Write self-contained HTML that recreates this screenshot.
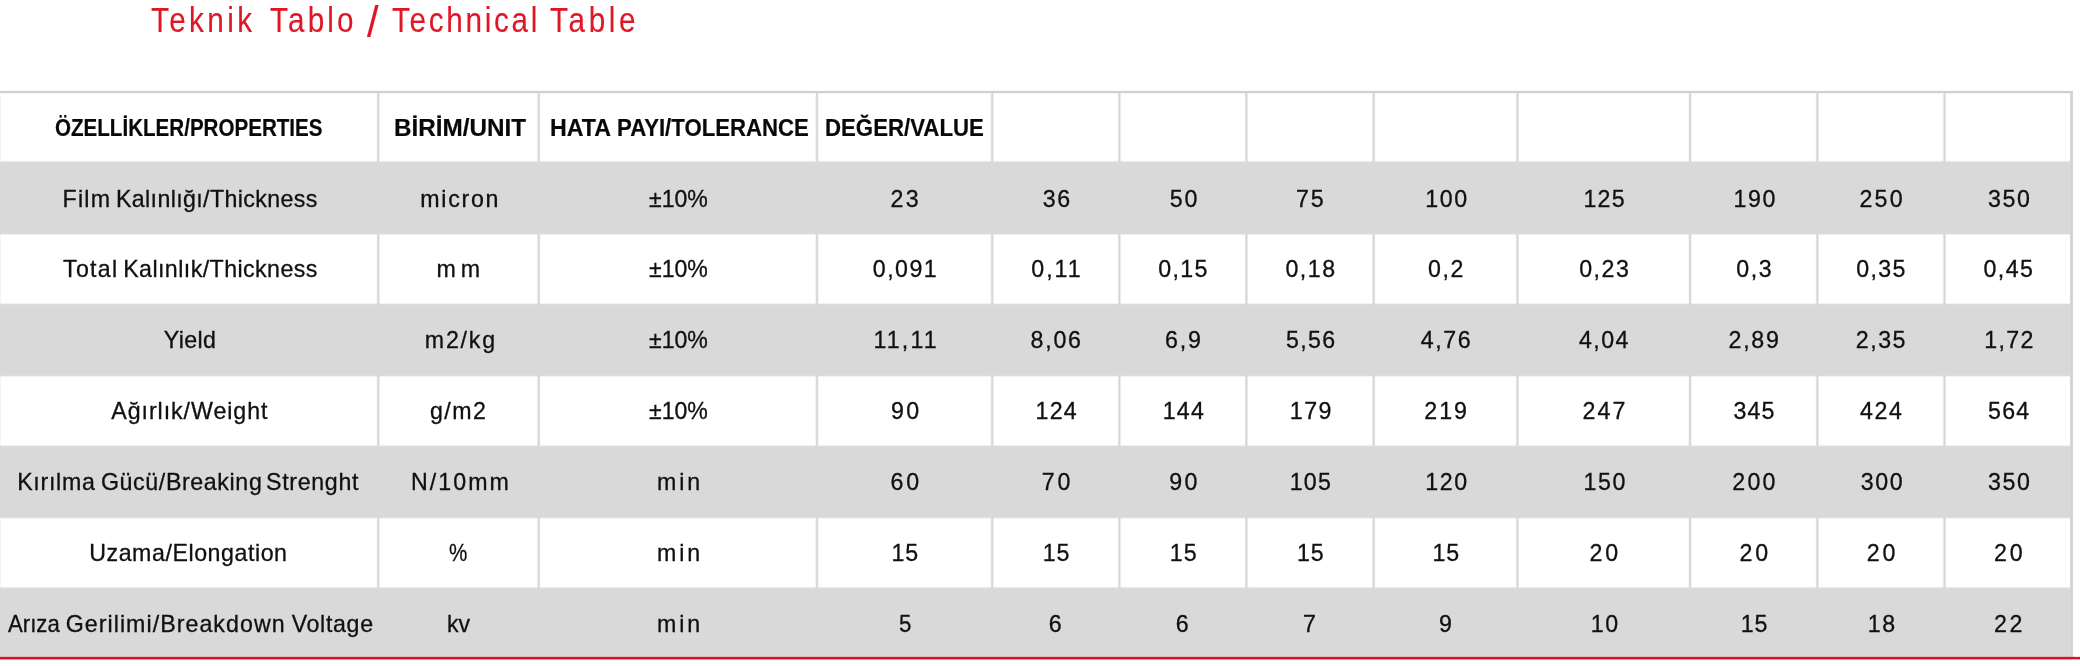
<!DOCTYPE html>
<html lang="tr"><head><meta charset="utf-8"><title>Teknik Tablo / Technical Table</title>
<style>
html,body{margin:0;padding:0;background:#fff;}
body{width:2080px;height:666px;position:relative;overflow:hidden;font-family:"Liberation Sans",sans-serif;}
#p{position:absolute;left:0;top:0;width:2080px;height:666px;}
#p{filter:blur(0.45px);}
.g{position:absolute;left:0;width:2072px;}
.vr{mix-blend-mode:darken;}
.hl{position:absolute;left:0;top:90px;width:2073px;height:4px;mix-blend-mode:darken;background:linear-gradient(to bottom,#fafafa 0,#fafafa 1px,#d0d0d0 1px,#d0d0d0 3px,#f6f6f6 3px,#f6f6f6 4px);}
.vl{position:absolute;top:91px;width:7px;height:567px;}
.red{position:absolute;left:0;top:656px;width:2080px;height:4px;background:linear-gradient(to bottom,rgba(223,16,34,.14) 0,rgba(223,16,34,.14) 25%,#df1022 25%,#df1022 75%,rgba(223,16,34,.36) 75%,rgba(223,16,34,.36) 100%);}
span{position:absolute;white-space:nowrap;transform-origin:0 0;line-height:normal;}
.c{font-size:23.2px;color:#101010;-webkit-text-stroke:0.3px #101010;}
.h{font-size:24.3px;font-weight:bold;color:#080808;-webkit-text-stroke:0.2px #080808;}
.t{font-size:35.35px;color:#df1626;-webkit-text-stroke:0.15px #df1626;}
</style></head>
<body>
<div class="vl" style="left:-4px;background:linear-gradient(to right,rgb(255,255,255) 0px,rgb(255,255,255) 1px,rgb(245,245,245) 1px,rgb(245,245,245) 2px,rgb(218,218,218) 2px,rgb(218,218,218) 3px,rgb(218,218,218) 3px,rgb(218,218,218) 4px,rgb(245,245,245) 4px,rgb(245,245,245) 5px,rgb(255,255,255) 5px,rgb(255,255,255) 6px,rgb(255,255,255) 6px,rgb(255,255,255) 7px)"></div>
<div class="vl" style="left:375px;background:linear-gradient(to right,rgb(255,255,255) 0px,rgb(255,255,255) 1px,rgb(250,250,250) 1px,rgb(250,250,250) 2px,rgb(224,224,224) 2px,rgb(224,224,224) 3px,rgb(214,214,214) 3px,rgb(214,214,214) 4px,rgb(239,239,239) 4px,rgb(239,239,239) 5px,rgb(254,254,254) 5px,rgb(254,254,254) 6px,rgb(255,255,255) 6px,rgb(255,255,255) 7px)"></div>
<div class="vl" style="left:535px;background:linear-gradient(to right,rgb(255,255,255) 0px,rgb(255,255,255) 1px,rgb(254,254,254) 1px,rgb(254,254,254) 2px,rgb(238,238,238) 2px,rgb(238,238,238) 3px,rgb(213,213,213) 3px,rgb(213,213,213) 4px,rgb(225,225,225) 4px,rgb(225,225,225) 5px,rgb(251,251,251) 5px,rgb(251,251,251) 6px,rgb(255,255,255) 6px,rgb(255,255,255) 7px)"></div>
<div class="vl" style="left:814px;background:linear-gradient(to right,rgb(255,255,255) 0px,rgb(255,255,255) 1px,rgb(245,245,245) 1px,rgb(245,245,245) 2px,rgb(218,218,218) 2px,rgb(218,218,218) 3px,rgb(218,218,218) 3px,rgb(218,218,218) 4px,rgb(245,245,245) 4px,rgb(245,245,245) 5px,rgb(255,255,255) 5px,rgb(255,255,255) 6px,rgb(255,255,255) 6px,rgb(255,255,255) 7px)"></div>
<div class="vl" style="left:989px;background:linear-gradient(to right,rgb(255,255,255) 0px,rgb(255,255,255) 1px,rgb(249,249,249) 1px,rgb(249,249,249) 2px,rgb(223,223,223) 2px,rgb(223,223,223) 3px,rgb(214,214,214) 3px,rgb(214,214,214) 4px,rgb(241,241,241) 4px,rgb(241,241,241) 5px,rgb(254,254,254) 5px,rgb(254,254,254) 6px,rgb(255,255,255) 6px,rgb(255,255,255) 7px)"></div>
<div class="vl" style="left:1116px;background:linear-gradient(to right,rgb(255,255,255) 0px,rgb(255,255,255) 1px,rgb(252,252,252) 1px,rgb(252,252,252) 2px,rgb(228,228,228) 2px,rgb(228,228,228) 3px,rgb(213,213,213) 3px,rgb(213,213,213) 4px,rgb(235,235,235) 4px,rgb(235,235,235) 5px,rgb(253,253,253) 5px,rgb(253,253,253) 6px,rgb(255,255,255) 6px,rgb(255,255,255) 7px)"></div>
<div class="vl" style="left:1243px;background:linear-gradient(to right,rgb(255,255,255) 0px,rgb(255,255,255) 1px,rgb(252,252,252) 1px,rgb(252,252,252) 2px,rgb(228,228,228) 2px,rgb(228,228,228) 3px,rgb(213,213,213) 3px,rgb(213,213,213) 4px,rgb(235,235,235) 4px,rgb(235,235,235) 5px,rgb(253,253,253) 5px,rgb(253,253,253) 6px,rgb(255,255,255) 6px,rgb(255,255,255) 7px)"></div>
<div class="vl" style="left:1370px;background:linear-gradient(to right,rgb(255,255,255) 0px,rgb(255,255,255) 1px,rgb(254,254,254) 1px,rgb(254,254,254) 2px,rgb(236,236,236) 2px,rgb(236,236,236) 3px,rgb(213,213,213) 3px,rgb(213,213,213) 4px,rgb(227,227,227) 4px,rgb(227,227,227) 5px,rgb(251,251,251) 5px,rgb(251,251,251) 6px,rgb(255,255,255) 6px,rgb(255,255,255) 7px)"></div>
<div class="vl" style="left:1514px;background:linear-gradient(to right,rgb(255,255,255) 0px,rgb(255,255,255) 1px,rgb(252,252,252) 1px,rgb(252,252,252) 2px,rgb(230,230,230) 2px,rgb(230,230,230) 3px,rgb(213,213,213) 3px,rgb(213,213,213) 4px,rgb(233,233,233) 4px,rgb(233,233,233) 5px,rgb(253,253,253) 5px,rgb(253,253,253) 6px,rgb(255,255,255) 6px,rgb(255,255,255) 7px)"></div>
<div class="vl" style="left:1687px;background:linear-gradient(to right,rgb(255,255,255) 0px,rgb(255,255,255) 1px,rgb(247,247,247) 1px,rgb(247,247,247) 2px,rgb(219,219,219) 2px,rgb(219,219,219) 3px,rgb(217,217,217) 3px,rgb(217,217,217) 4px,rgb(244,244,244) 4px,rgb(244,244,244) 5px,rgb(255,255,255) 5px,rgb(255,255,255) 6px,rgb(255,255,255) 6px,rgb(255,255,255) 7px)"></div>
<div class="vl" style="left:1814px;background:linear-gradient(to right,rgb(255,255,255) 0px,rgb(255,255,255) 1px,rgb(251,251,251) 1px,rgb(251,251,251) 2px,rgb(227,227,227) 2px,rgb(227,227,227) 3px,rgb(213,213,213) 3px,rgb(213,213,213) 4px,rgb(236,236,236) 4px,rgb(236,236,236) 5px,rgb(254,254,254) 5px,rgb(254,254,254) 6px,rgb(255,255,255) 6px,rgb(255,255,255) 7px)"></div>
<div class="vl" style="left:1941px;background:linear-gradient(to right,rgb(255,255,255) 0px,rgb(255,255,255) 1px,rgb(252,252,252) 1px,rgb(252,252,252) 2px,rgb(230,230,230) 2px,rgb(230,230,230) 3px,rgb(213,213,213) 3px,rgb(213,213,213) 4px,rgb(233,233,233) 4px,rgb(233,233,233) 5px,rgb(253,253,253) 5px,rgb(253,253,253) 6px,rgb(255,255,255) 6px,rgb(255,255,255) 7px)"></div>
<div class="g" style="top:159px;height:78px;background:linear-gradient(to bottom,rgba(217,217,217,0.001) 0px,rgba(217,217,217,0.001) 1px,rgba(217,217,217,0.067) 1px,rgba(217,217,217,0.067) 2px,rgba(217,217,217,0.566) 2px,rgba(217,217,217,0.566) 3px,rgba(217,217,217,0.967) 3px,rgba(217,217,217,0.967) 4px,#d9d9d9 4px,#d9d9d9 74px,rgba(217,217,217,0.933) 74px,rgba(217,217,217,0.933) 75px,rgba(217,217,217,0.434) 75px,rgba(217,217,217,0.434) 76px,rgba(217,217,217,0.033) 76px,rgba(217,217,217,0.033) 77px,rgba(217,217,217,0.000) 77px,rgba(217,217,217,0.000) 78px)"></div>
<div class="g" style="top:301px;height:78px;background:linear-gradient(to bottom,rgba(217,217,217,0.000) 0px,rgba(217,217,217,0.000) 1px,rgba(217,217,217,0.015) 1px,rgba(217,217,217,0.015) 2px,rgba(217,217,217,0.309) 2px,rgba(217,217,217,0.309) 3px,rgba(217,217,217,0.878) 3px,rgba(217,217,217,0.878) 4px,#d9d9d9 4px,#d9d9d9 74px,rgba(217,217,217,0.878) 74px,rgba(217,217,217,0.878) 75px,rgba(217,217,217,0.309) 75px,rgba(217,217,217,0.309) 76px,rgba(217,217,217,0.015) 76px,rgba(217,217,217,0.015) 77px,rgba(217,217,217,0.000) 77px,rgba(217,217,217,0.000) 78px)"></div>
<div class="g" style="top:443px;height:78px;background:linear-gradient(to bottom,rgba(217,217,217,0.000) 0px,rgba(217,217,217,0.000) 1px,rgba(217,217,217,0.023) 1px,rgba(217,217,217,0.023) 2px,rgba(217,217,217,0.369) 2px,rgba(217,217,217,0.369) 3px,rgba(217,217,217,0.909) 3px,rgba(217,217,217,0.909) 4px,#d9d9d9 4px,#d9d9d9 74px,rgba(217,217,217,0.841) 74px,rgba(217,217,217,0.841) 75px,rgba(217,217,217,0.252) 75px,rgba(217,217,217,0.252) 76px,rgba(217,217,217,0.010) 76px,rgba(217,217,217,0.010) 77px,rgba(217,217,217,0.000) 77px,rgba(217,217,217,0.000) 78px)"></div>
<div class="g" style="top:585px;height:77px;background:linear-gradient(to bottom,rgba(217,217,217,0.000) 0px,rgba(217,217,217,0.000) 1px,rgba(217,217,217,0.048) 1px,rgba(217,217,217,0.048) 2px,rgba(217,217,217,0.500) 2px,rgba(217,217,217,0.500) 3px,rgba(217,217,217,0.952) 3px,rgba(217,217,217,0.952) 4px,#d9d9d9 4px,#d9d9d9 73px,rgba(217,217,217,0.985) 73px,rgba(217,217,217,0.985) 74px,rgba(217,217,217,0.691) 74px,rgba(217,217,217,0.691) 75px,rgba(217,217,217,0.122) 75px,rgba(217,217,217,0.122) 76px,rgba(217,217,217,0.002) 76px,rgba(217,217,217,0.002) 77px)"></div>
<div class="vl vr" style="left:2068px;background:linear-gradient(to right,rgb(255,255,255) 0px,rgb(255,255,255) 1px,rgb(254,254,254) 1px,rgb(254,254,254) 2px,rgb(218,218,218) 2px,rgb(218,218,218) 3px,rgb(209,209,209) 3px,rgb(209,209,209) 4px,rgb(215,215,215) 4px,rgb(215,215,215) 5px,rgb(253,253,253) 5px,rgb(253,253,253) 6px,rgb(255,255,255) 6px,rgb(255,255,255) 7px)"></div>
<div class="hl"></div>
<div class="red"></div>
<div id="p">
<span class="h" style="left:54.65px;top:114.00px;transform:scaleX(0.8469);">ÖZELLİKLER/PROPERTIES</span>
<span class="h" style="left:394.00px;top:114.00px;transform:scaleX(0.9987);">BİRİM/UNIT</span>
<span class="h" style="left:549.55px;top:114.00px;transform:scaleX(0.9546);">HATA</span>
<span class="h" style="left:617.09px;top:114.00px;transform:scaleX(0.9129);">PAYI/TOLERANCE</span>
<span class="h" style="left:825.34px;top:114.00px;transform:scaleX(0.9145);">DEĞER/VALUE</span>
<span class="c" style="left:62.60px;top:186.00px;letter-spacing:1.211px;">Film</span>
<span class="c" style="left:115.90px;top:186.00px;letter-spacing:0.383px;">Kalınlığı/Thickness</span>
<span class="c" style="left:420.25px;top:186.00px;letter-spacing:1.714px;">micron</span>
<span class="c" style="left:648.75px;top:186.00px;transform:scaleX(0.9954);">±10%</span>
<span class="c" style="left:890.42px;top:186.00px;letter-spacing:2.534px;">23</span>
<span class="c" style="left:1042.75px;top:186.00px;letter-spacing:1.534px;">36</span>
<span class="c" style="left:1169.85px;top:186.00px;letter-spacing:1.784px;">50</span>
<span class="c" style="left:1295.97px;top:186.00px;letter-spacing:1.909px;">75</span>
<span class="c" style="left:1425.34px;top:186.00px;letter-spacing:1.596px;">100</span>
<span class="c" style="left:1583.54px;top:186.00px;letter-spacing:1.159px;">125</span>
<span class="c" style="left:1733.49px;top:186.00px;letter-spacing:1.596px;">190</span>
<span class="c" style="left:1859.57px;top:186.00px;letter-spacing:2.159px;">250</span>
<span class="c" style="left:1988.02px;top:186.00px;letter-spacing:1.596px;">350</span>
<span class="c" style="left:63.00px;top:256.00px;letter-spacing:1.293px;">Total</span>
<span class="c" style="left:123.20px;top:256.00px;letter-spacing:0.431px;">Kalınlık/Thickness</span>
<span class="c" style="left:436.50px;top:256.00px;letter-spacing:4.935px;">mm</span>
<span class="c" style="left:648.75px;top:256.00px;transform:scaleX(0.9954);">±10%</span>
<span class="c" style="left:872.84px;top:256.00px;letter-spacing:1.458px;">0,091</span>
<span class="c" style="left:1031.19px;top:256.00px;letter-spacing:2.049px;">0,11</span>
<span class="c" style="left:1158.29px;top:256.00px;letter-spacing:1.350px;">0,15</span>
<span class="c" style="left:1285.42px;top:256.00px;letter-spacing:1.516px;">0,18</span>
<span class="c" style="left:1428.10px;top:256.00px;letter-spacing:1.570px;">0,2</span>
<span class="c" style="left:1579.14px;top:256.00px;letter-spacing:1.516px;">0,23</span>
<span class="c" style="left:1736.25px;top:256.00px;letter-spacing:1.570px;">0,3</span>
<span class="c" style="left:1856.29px;top:256.00px;letter-spacing:1.350px;">0,35</span>
<span class="c" style="left:1983.62px;top:256.00px;letter-spacing:1.350px;">0,45</span>
<span class="c" style="left:163.75px;top:327.00px;letter-spacing:0.362px;">Yield</span>
<span class="c" style="left:424.75px;top:327.00px;letter-spacing:1.813px;">m2/kg</span>
<span class="c" style="left:648.75px;top:327.00px;transform:scaleX(0.9954);">±10%</span>
<span class="c" style="left:873.47px;top:327.00px;letter-spacing:2.163px;">11,11</span>
<span class="c" style="left:1030.57px;top:327.00px;letter-spacing:1.766px;">8,06</span>
<span class="c" style="left:1164.95px;top:327.00px;letter-spacing:1.883px;">6,9</span>
<span class="c" style="left:1286.04px;top:327.00px;letter-spacing:1.350px;">5,56</span>
<span class="c" style="left:1420.82px;top:327.00px;letter-spacing:1.600px;">4,76</span>
<span class="c" style="left:1579.02px;top:327.00px;letter-spacing:1.433px;">4,04</span>
<span class="c" style="left:1728.59px;top:327.00px;letter-spacing:1.725px;">2,89</span>
<span class="c" style="left:1855.79px;top:327.00px;letter-spacing:1.516px;">2,35</span>
<span class="c" style="left:1984.24px;top:327.00px;letter-spacing:1.308px;">1,72</span>
<span class="c" style="left:111.25px;top:398.00px;letter-spacing:0.945px;">Ağırlık/Weight</span>
<span class="c" style="left:430.00px;top:398.00px;letter-spacing:1.449px;">g/m2</span>
<span class="c" style="left:648.75px;top:398.00px;transform:scaleX(0.9954);">±10%</span>
<span class="c" style="left:890.92px;top:398.00px;letter-spacing:2.409px;">90</span>
<span class="c" style="left:1035.59px;top:398.00px;letter-spacing:1.221px;">124</span>
<span class="c" style="left:1162.69px;top:398.00px;letter-spacing:1.221px;">144</span>
<span class="c" style="left:1289.82px;top:398.00px;letter-spacing:1.471px;">179</span>
<span class="c" style="left:1424.22px;top:398.00px;letter-spacing:2.034px;">219</span>
<span class="c" style="left:1582.42px;top:398.00px;letter-spacing:2.096px;">247</span>
<span class="c" style="left:1733.49px;top:398.00px;letter-spacing:1.159px;">345</span>
<span class="c" style="left:1859.94px;top:398.00px;letter-spacing:1.596px;">424</span>
<span class="c" style="left:1988.02px;top:398.00px;letter-spacing:1.221px;">564</span>
<span class="c" style="left:17.20px;top:469.00px;letter-spacing:0.710px;">Kırılma</span>
<span class="c" style="left:100.90px;top:469.00px;letter-spacing:0.626px;">Gücü/Breaking</span>
<span class="c" style="left:266.10px;top:469.00px;letter-spacing:0.670px;">Strenght</span>
<span class="c" style="left:411.00px;top:469.00px;letter-spacing:2.041px;">N/10mm</span>
<span class="c" style="left:657.00px;top:469.00px;letter-spacing:2.892px;">min</span>
<span class="c" style="left:890.42px;top:469.00px;letter-spacing:2.909px;">60</span>
<span class="c" style="left:1041.75px;top:469.00px;letter-spacing:2.784px;">70</span>
<span class="c" style="left:1169.22px;top:469.00px;letter-spacing:2.409px;">90</span>
<span class="c" style="left:1289.82px;top:469.00px;letter-spacing:1.159px;">105</span>
<span class="c" style="left:1425.34px;top:469.00px;letter-spacing:1.596px;">120</span>
<span class="c" style="left:1583.54px;top:469.00px;letter-spacing:1.596px;">150</span>
<span class="c" style="left:1732.37px;top:469.00px;letter-spacing:2.159px;">200</span>
<span class="c" style="left:1860.69px;top:469.00px;letter-spacing:1.596px;">300</span>
<span class="c" style="left:1988.02px;top:469.00px;letter-spacing:1.596px;">350</span>
<span class="c" style="left:89.20px;top:540.00px;letter-spacing:0.555px;">Uzama/Elongation</span>
<span class="c" style="left:449.25px;top:540.00px;transform:scaleX(0.8875);">%</span>
<span class="c" style="left:657.00px;top:540.00px;letter-spacing:2.892px;">min</span>
<span class="c" style="left:891.55px;top:540.00px;letter-spacing:0.909px;">15</span>
<span class="c" style="left:1042.75px;top:540.00px;letter-spacing:0.909px;">15</span>
<span class="c" style="left:1169.85px;top:540.00px;letter-spacing:0.909px;">15</span>
<span class="c" style="left:1296.97px;top:540.00px;letter-spacing:0.909px;">15</span>
<span class="c" style="left:1432.50px;top:540.00px;letter-spacing:0.909px;">15</span>
<span class="c" style="left:1589.57px;top:540.00px;letter-spacing:2.909px;">20</span>
<span class="c" style="left:1739.52px;top:540.00px;letter-spacing:2.909px;">20</span>
<span class="c" style="left:1866.72px;top:540.00px;letter-spacing:2.909px;">20</span>
<span class="c" style="left:1994.05px;top:540.00px;letter-spacing:2.909px;">20</span>
<span class="c" style="left:7.60px;top:611.00px;transform:scaleX(0.9553);">Arıza</span>
<span class="c" style="left:65.70px;top:611.00px;letter-spacing:1.051px;">Gerilimi/Breakdown</span>
<span class="c" style="left:291.70px;top:611.00px;letter-spacing:0.672px;">Voltage</span>
<span class="c" style="left:446.50px;top:611.00px;transform:scaleX(0.9959);">kv</span>
<span class="c" style="left:657.00px;top:611.00px;letter-spacing:2.892px;">min</span>
<span class="c" style="left:898.70px;top:611.00px;transform:scaleX(0.9583);">5</span>
<span class="c" style="left:1048.77px;top:611.00px;">6</span>
<span class="c" style="left:1175.87px;top:611.00px;">6</span>
<span class="c" style="left:1303.12px;top:611.00px;">7</span>
<span class="c" style="left:1439.02px;top:611.00px;">9</span>
<span class="c" style="left:1590.70px;top:611.00px;letter-spacing:1.784px;">10</span>
<span class="c" style="left:1740.65px;top:611.00px;letter-spacing:0.909px;">15</span>
<span class="c" style="left:1867.85px;top:611.00px;letter-spacing:1.409px;">18</span>
<span class="c" style="left:1994.05px;top:611.00px;letter-spacing:2.534px;">22</span>
<span class="t" style="left:151.25px;top:0.00px;transform:scaleX(0.8400);letter-spacing:4.013px;">Teknik</span>
<span class="t" style="left:269.50px;top:0.00px;transform:scaleX(0.8400);letter-spacing:3.751px;">Tablo</span>
<span class="t" style="left:367.00px;top:4.60px;transform-origin:0 32.00px;transform:scale(1.1750,1.2698);">/</span>
<span class="t" style="left:392.00px;top:0.00px;transform:scaleX(0.8400);letter-spacing:3.212px;">Technical</span>
<span class="t" style="left:550.00px;top:0.00px;transform:scaleX(0.8400);letter-spacing:4.346px;">Table</span>
</div>
</body></html>
